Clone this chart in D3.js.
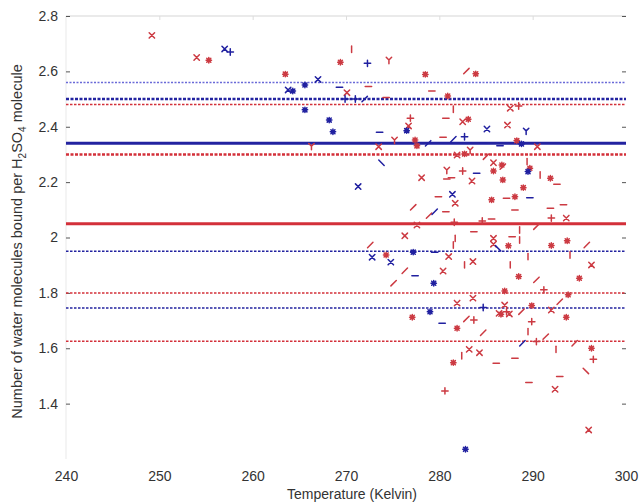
<!DOCTYPE html>
<html>
<head>
<meta charset="utf-8">
<script src="https://cdn.jsdelivr.net/npm/d3@7"></script>
<style>
  html, body { margin: 0; padding: 0; background: #fff; }
  svg { display: block; }
  text { font-family: "Liberation Sans", Arial, sans-serif; fill: #333; }
</style>
</head>
<body>
<script>
// ---------- data ----------
const xTicks = [240, 250, 260, 270, 280, 290, 300];
const yTicks = [1.4, 1.6, 1.8, 2.0, 2.2, 2.4, 2.6, 2.8];

// red series: temperature (K), water molecules, marker kind
const redT = [249.2,254.0,255.3,263.5,266.3,270.6,269.4,274.6,278.5,270.1,272.4,279.2,280.9,274.3,281.5,276.9,280.7,276.7,273.5,275.2,277.4,277.6,280.4,281.9,
  282.9,283.9,287.6,288.5,282.5,283.1,287.3,288.3,290.5,282.7,283.3,285.0,285.8,286.7,289.4,289.7,
  280.8,278.1,280.8,281.3,279.9,281.7,277.2,278.9,280.7,277.6,281.6,276.3,272.6,281.7,281.5,274.3,281.0,276.3,280.4,275.1,281.9,
  282.5,285.8,286.8,290.8,291.9,292.6,283.5,286.8,289.0,288.1,287.2,285.6,288.1,291.9,293.3,284.6,285.6,292.0,293.6,290.4,283.7,288.6,288.6,287.8,285.8,285.8,287.4,292.0,293.7,295.8,289.5,294.0,283.6,282.7,296.3,287.6,288.5,290.4,295.0,287.0,291.2,293.8,292.9,283.6,287.0,287.2,289.9,292.0,286.4,288.8,
  277.1,281.9,282.9,283.7,286.6,287.5,293.6,289.9,284.7,289.5,291.4,290.4,294.5,283.2,284.3,282.4,292.5,296.3,296.5,281.5,286.1,288.1,295.7,292.9,289.6,292.4,280.6,296.0];
const redV = [2.73,2.65,2.64,2.59,2.33,2.68,2.633,2.641,2.589,2.523,2.545,2.529,2.511,2.506,2.463,2.431,2.431,2.403,2.328,2.352,2.352,2.331,2.362,2.298,
  2.601,2.591,2.467,2.475,2.418,2.427,2.406,2.350,2.328,2.302,2.316,2.292,2.270,2.262,2.274,2.250,
  2.244,2.216,2.211,2.216,2.147,2.124,2.109,2.079,2.093,2.045,2.055,2.006,1.973,1.997,1.973,1.937,1.931,1.880,1.879,1.835,1.763,
  2.240,2.240,2.256,2.226,2.214,2.192,2.204,2.208,2.180,2.147,2.142,2.136,2.099,2.106,2.118,2.060,2.067,2.070,2.070,2.039,2.021,2.027,1.991,2.003,1.997,1.976,1.970,1.971,1.988,1.973,1.931,1.937,1.913,1.901,1.901,1.901,1.859,1.847,1.853,1.807,1.811,1.793,1.768,1.781,1.756,1.732,1.754,1.738,1.726,1.732,
  1.712,1.672,1.706,1.702,1.723,1.724,1.712,1.696,1.656,1.660,1.642,1.624,1.618,1.596,1.584,1.573,1.596,1.600,1.560,1.548,1.546,1.564,1.518,1.498,1.476,1.452,1.446,1.305];
const redKind = ["x","x","*","*","y","|","*","y","*","x","-","-","*","-","|","+","-","x","x","y","*","*","-","x",
  "/","*","x","+","x","*","x","*","x","*","y","/","x","*","|","*",
  "y","x","-","-","-","x","/","/","-","x","+","x","/","|","|","*","x","/","x","/","x",
  "+","*","/","|","*","-","x","*","*","*","-","*","-","-","-","+","-","+","x","/","-","|","|","-","x","x","*","*","*","/","|","|","x","|","x","|","*","/","*","*","+","*","/","x","x","+","*","x","x","/",
  "*","*","/","+","*","x","*","+","/","|","/","+","/","x","x","|","|","*","+","*","-","-","\\","-","-","x","+","x"];

// blue series
const blueT = [257.0,257.6,263.8,264.3,265.6,265.6,267.0,272.3,269.3,269.9,271.0,272.0,268.2,268.6,273.6,276.5,278.8,281.5,273.8,285.1,289.3,282.7,284.7,286.5,288.8,
  271.3,281.4,279.5,272.8,277.2,279.5,274.8,277.4,279.4,279.0,284.0,289.5,289.7,286.3,284.7,280.3,288.9,282.8];
const blueV = [2.681,2.670,2.533,2.529,2.551,2.461,2.571,2.629,2.543,2.500,2.500,2.500,2.424,2.382,2.380,2.386,2.340,2.355,2.270,2.392,2.385,2.364,2.342,2.331,2.338,
  2.184,2.156,2.093,1.929,1.947,1.947,1.911,1.862,1.835,1.732,2.232,2.238,2.144,1.961,1.747,1.690,1.618,1.235];
const blueKind = ["x","+","x","*","*","*","x","+","-","+","+","/","*","*","-","*","/","/","\\","x","y","+","-","-","*",
  "x","x","/","x","*","-","x","-","*","*","-","*","-","\\","+","-","/","*"];

// mean / bound lines: value, series, kind
const lineVals   = [2.56, 2.50, 2.48, 2.34, 2.30, 2.05, 1.95, 1.80, 1.745, 1.625];
const lineSeries = ["blue","blue","red","blue","red","red","blue","red","blue","red"];
const lineKinds  = ["dotThin","dotThick","dot","solid","dotThick","solid","dot","dot","dot","dot"];

// ---------- drawing ----------
const W = 640, H = 504;
const svg = d3.select("body").append("svg").attr("width", W).attr("height", H);

const x = d3.scaleLinear().domain([240, 300]).range([66, 626]);
const y = d3.scaleLinear().domain([1.2, 2.8]).range([459, 16]);

const col = { red: "#d3303a", blue: "#2323a0" };
const colLight = { red: "#e0606a", blue: "#6a6ad8" };

// frame
svg.append("line").attr("x1", x(240)).attr("x2", x(300)).attr("y1", y(2.8)).attr("y2", y(2.8))
  .attr("stroke", "#e3e3e3").attr("stroke-width", 1.5);
svg.append("line").attr("x1", x(240)).attr("x2", x(240)).attr("y1", y(2.8)).attr("y2", y(1.2))
  .attr("stroke", "#f0f0f0").attr("stroke-width", 1.5);

// y axis (left), inward ticks
const yAxisL = svg.append("g").attr("transform", `translate(${x(240)},0)`)
  .call(d3.axisLeft(y).tickValues(yTicks).tickSize(-4).tickPadding(8).tickFormat(d3.format("~g")));
yAxisL.select(".domain").remove();
yAxisL.selectAll(".tick line").attr("stroke", "#555");
yAxisL.selectAll(".tick text").style("font-size", "14px").attr("fill", "#333");

const yAxisR = svg.append("g").attr("transform", `translate(${x(300)},0)`)
  .call(d3.axisRight(y).tickValues(yTicks).tickSize(-4).tickFormat(""));
yAxisR.select(".domain").remove();
yAxisR.selectAll(".tick line").attr("stroke", "#555");

// x axis labels
const xAxis = svg.append("g").attr("transform", `translate(0,${y(1.2)})`)
  .call(d3.axisBottom(x).tickValues(xTicks).tickSize(0).tickPadding(12).tickFormat(d3.format("d")));
xAxis.select(".domain").remove();
xAxis.selectAll(".tick text").style("font-size", "14px").attr("fill", "#333");

// top ticks (faint)
const xAxisT = svg.append("g").attr("transform", `translate(0,${y(2.8)})`)
  .call(d3.axisTop(x).tickValues(xTicks.slice(1, -1)).tickSize(-4).tickFormat(""));
xAxisT.select(".domain").remove();
xAxisT.selectAll(".tick line").attr("stroke", "#ddd");

// horizontal lines
const lineStyle = {
  solid:    { w: 3,   dash: null },
  dotThick: { w: 2.6, dash: "3,1.5" },
  dot:      { w: 1.5, dash: "2.5,1.5" },
  dotThin:  { w: 1.4, dash: "2,1.5" }
};
lineVals.forEach((v, i) => {
  const st = lineStyle[lineKinds[i]];
  const c = lineKinds[i] === "dotThin" ? colLight[lineSeries[i]] : col[lineSeries[i]];
  svg.append("line")
    .attr("x1", x(240)).attr("x2", x(300))
    .attr("y1", y(v)).attr("y2", y(v))
    .attr("stroke", c).attr("stroke-width", st.w)
    .attr("stroke-dasharray", st.dash);
});

// markers
const s = 2.7;
const shapes = {
  "x": `M${-s},${-s}L${s},${s}M${-s},${s}L${s},${-s}`,
  "+": `M${-s - .5},0L${s + .5},0M0,${-s - .5}L0,${s + .5}`,
  "*": `M${-s},0L${s},0M0,${-s}L0,${s}M${-s * .75},${-s * .75}L${s * .75},${s * .75}M${-s * .75},${s * .75}L${s * .75},${-s * .75}`,
  "-": `M${-s - .5},0L${s + .5},0`,
  "|": `M0,${-s - .5}L0,${s + .5}`,
  "/": `M${-s},${s}L${s},${-s}`,
  "\\": `M${-s},${-s}L${s},${s}`,
  "y": `M0,0L0,${s + 1}M0,0L${-s},${-s}M0,0L${s},${-s}`
};

function drawSeries(T, V, K, c) {
  svg.append("g").selectAll("path").data(T.map((t, i) => ({ t, v: V[i], k: K[i] })))
    .join("path")
    .attr("transform", d => `translate(${x(d.t)},${y(d.v)})`)
    .attr("d", d => shapes[d.k])
    .attr("fill", "none")
    .attr("stroke", c)
    .attr("stroke-width", 1.5)
    .attr("stroke-linecap", "round");
}
drawSeries(redT, redV, redKind, "#cc3a42");
drawSeries(blueT, blueV, blueKind, "#2020a0");

// axis titles
svg.append("text")
  .attr("x", (x(240) + x(300)) / 2 + 6).attr("y", 499)
  .attr("text-anchor", "middle").style("font-size", "14px")
  .text("Temperature (Kelvin)");

const yt = svg.append("text")
  .attr("transform", `translate(22,${(y(2.8) + y(1.2)) / 2 + 4}) rotate(-90)`)
  .attr("text-anchor", "middle").style("font-size", "14.5px");
yt.append("tspan").text("Number of water molecules bound per H");
yt.append("tspan").attr("dy", 4).style("font-size", "10px").text("2");
yt.append("tspan").attr("dy", -4).text("SO");
yt.append("tspan").attr("dy", 4).style("font-size", "10px").text("4");
yt.append("tspan").attr("dy", -4).text(" molecule");
</script>
</body>
</html>
